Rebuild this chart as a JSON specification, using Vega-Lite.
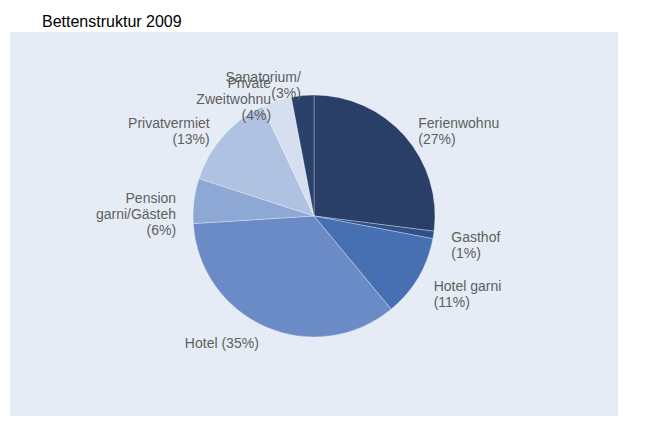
{
  "$schema": "https://vega.github.io/schema/vega-lite/v6.json",
  "width": 608,
  "height": 384,
  "autosize": {"type": "none"},
  "padding": {"left": 10, "top": 32, "right": 39, "bottom": 28},
  "background": "#ffffff",
  "view": {"fill": "#e5ecf5", "stroke": "#e5ecf5", "strokeWidth": 0},
  "title": {
    "text": "Bettenstruktur 2009",
    "anchor": "start",
    "dx": 32,
    "offset": 2,
    "font": "Liberation Sans",
    "fontSize": 16,
    "fontWeight": "normal",
    "color": "#000000"
  },
  "data": {
    "values": [
      {"order": 1, "category": "Ferienwohnung", "label": "Ferienwohnung\n(27%)", "value": 27},
      {"order": 2, "category": "Gasthof", "label": "Gasthof\n(1%)", "value": 1},
      {"order": 3, "category": "Hotel garni", "label": "Hotel garni\n(11%)", "value": 11},
      {"order": 4, "category": "Hotel", "label": "Hotel (35%)", "value": 35},
      {"order": 5, "category": "Pension garni/Gästehaus", "label": "Pension\ngarni/Gästehaus\n(6%)", "value": 6},
      {"order": 6, "category": "Privatvermieter", "label": "Privatvermieter\n(13%)", "value": 13},
      {"order": 7, "category": "Private Zweitwohnung", "label": "Private\nZweitwohnung\n(4%)", "value": 4},
      {"order": 8, "category": "Sanatorium/Kurheim", "label": "Sanatorium/Kurheim\n(3%)", "value": 3}
    ]
  },
  "encoding": {
    "theta": {"field": "value", "type": "quantitative", "stack": true},
    "order": {"field": "order", "type": "quantitative", "sort": "ascending"}
  },
  "layer": [
    {
      "mark": {"type": "arc", "outerRadius": 121, "stroke": "#ffffff", "strokeWidth": 0.5, "strokeOpacity": 0.6, "yOffset": -8},
      "encoding": {
        "color": {
          "field": "category",
          "type": "nominal",
          "legend": null,
          "sort": null,
          "scale": {
            "domain": ["Ferienwohnung", "Gasthof", "Hotel garni", "Hotel", "Pension garni/Gästehaus", "Privatvermieter", "Private Zweitwohnung", "Sanatorium/Kurheim"],
            "range": ["#293f68", "#30508a", "#4770b3", "#6a8bc5", "#8ea8d6", "#b0c2e1", "#d6dff0", "#2a416b"]
          }
        }
      }
    },
    {
      "mark": {
        "type": "text",
        "radius": 139,
        "yOffset": -8,
        "font": "Liberation Sans",
        "fontSize": 14,
        "lineHeight": 16,
        "lineBreak": "\n",
        "color": "#5f5f5f",
        "baseline": "middle",
        "limit": 82,
        "ellipsis": "\u200b",
        "align": {"expr": "datum.value_start + datum.value_end > 100 ? 'right' : 'left'"}
      },
      "encoding": {
        "text": {"field": "label", "type": "nominal"}
      }
    }
  ]
}
